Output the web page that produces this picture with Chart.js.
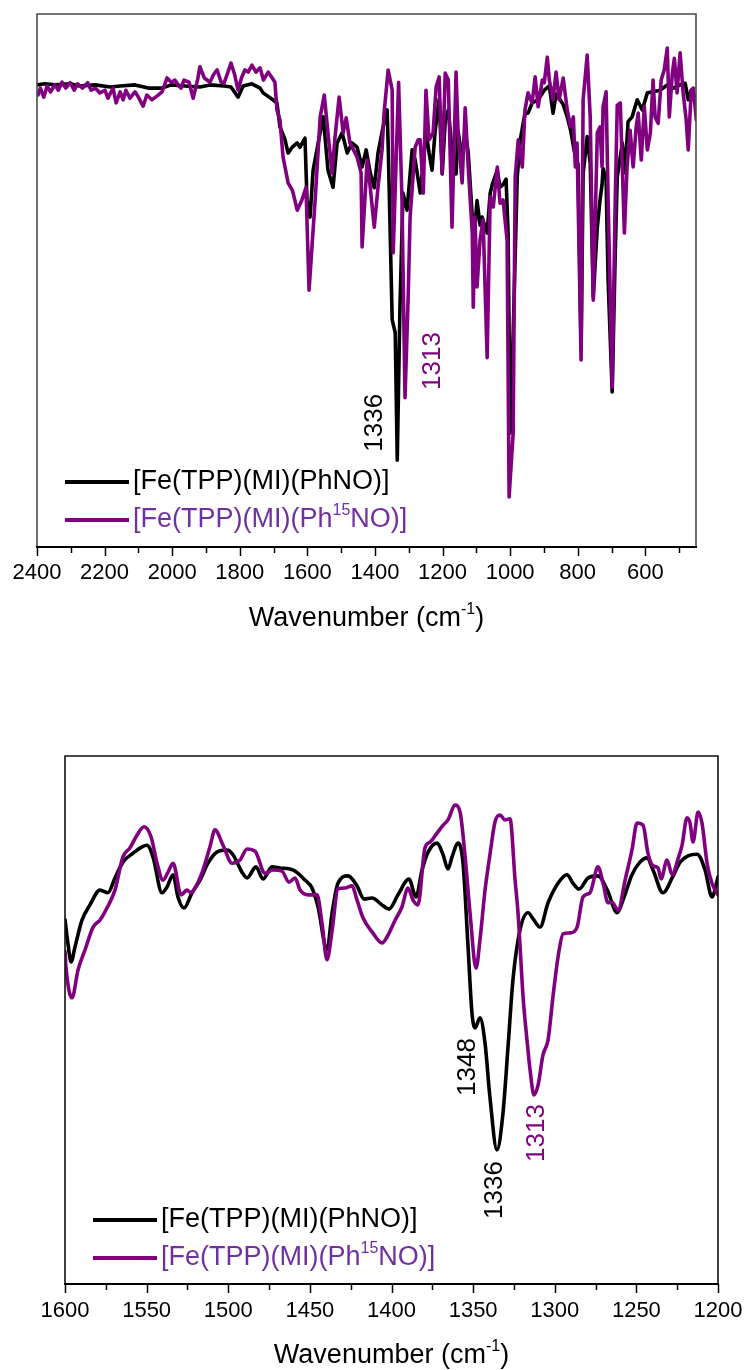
<!DOCTYPE html>
<html>
<head>
<meta charset="utf-8">
<script src="https://cdn.jsdelivr.net/npm/chart.js@4.4.1/dist/chart.umd.min.js"></script>
<style>
  html, body { margin: 0; padding: 0; background: #fff; }
  body { width: 747px; height: 1370px; position: relative; overflow: hidden; }
  .panel { position: absolute; left: 0; }
  #topPanel { top: 0; width: 747px; height: 650px; }
  #bottomPanel { top: 700px; width: 747px; height: 670px; }
</style>
</head>
<body>
<div class="panel" id="topPanel"><canvas id="fullChart" width="747" height="650"></canvas></div>
<div class="panel" id="bottomPanel"><canvas id="zoomChart" width="747" height="670"></canvas></div>
<script>
// IR spectra, 2400-450 cm-1, PhNO complex
var fullWnPhNO = [2400, 2376, 2347, 2302, 2273, 2228, 2184, 2154, 2110, 2071, 2030, 2003, 1962, 1918, 1888, 1846, 1826, 1805, 1790, 1764,
  1740, 1731, 1704, 1690, 1681, 1666, 1657, 1645, 1630, 1622, 1607, 1601, 1592, 1583, 1568, 1553, 1539, 1524, 1512, 1497,
  1482, 1468, 1453, 1438, 1426, 1414, 1402, 1391, 1376, 1364, 1361, 1349, 1340, 1334, 1326, 1317, 1305, 1290, 1281, 1266,
  1257, 1249, 1240, 1231, 1222, 1210, 1201, 1192, 1183, 1172, 1160, 1154, 1142, 1133, 1124, 1112, 1104, 1098, 1089, 1083,
  1068, 1059, 1053, 1038, 1030, 1021, 1012, 1006, 1000, 991, 979, 970, 956, 947, 935, 917, 899, 884, 873, 864,
  852, 843, 831, 821, 807, 799, 790, 784, 772, 763, 754, 742, 734, 728, 725, 716, 713, 710, 698, 689,
  683, 674, 668, 660, 651, 639, 624, 609, 594, 577, 556, 535, 517, 497, 482, 473, 464, 449];
var fullTPhNO = [86.7, 86.9, 86.7, 86.9, 86.5, 86.7, 86.3, 86.5, 86.7, 86.1, 86.1, 86.7, 86.5, 86.3, 86.7, 86.5, 86.3, 84.4, 86.5, 86.9,
  86.1, 85.2, 84.0, 83.3, 78.8, 76.4, 73.9, 75.0, 75.8, 75.0, 76.7, 65.1, 61.9, 70.7, 75.8, 80.7, 70.7, 67.5, 75.8, 77.7,
  73.9, 75.8, 75.0, 71.3, 74.5, 70.2, 67.4, 73.9, 78.8, 82.0, 75.8, 42.6, 40.2, 16.3, 45.0, 66.4, 63.2, 74.5, 72.6, 66.4,
  72.0, 78.0, 74.0, 70.7, 78.0, 84.0, 70.0, 80.0, 82.0, 74.5, 70.0, 78.0, 73.0, 78.0, 74.0, 62.0, 60.0, 65.0, 60.4, 61.9,
  58.9, 66.4, 68.0, 70.7, 67.5, 68.0, 69.0, 58.9, 21.4, 40.0, 69.4, 76.4, 81.4, 81.4, 83.3, 83.9, 85.7, 86.5, 81.4, 85.0,
  83.9, 83.0, 80.7, 78.2, 73.2, 71.8, 37.0, 70.0, 77.0, 72.0, 46.9, 60.0, 65.1, 68.0, 71.0, 69.0, 58.9, 50.0, 29.1, 55.0,
  69.4, 73.2, 75.8, 70.2, 79.8, 80.7, 83.9, 82.0, 85.2, 85.4, 85.7, 86.7, 86.1, 86.7, 87.0, 83.9, 85.7, 83.9];

// same range, Ph15NO complex
var fullWn15NO = [2397, 2390, 2380, 2370, 2360, 2347, 2337, 2326, 2315, 2302, 2290, 2280, 2265, 2250, 2240, 2228, 2214, 2199, 2190, 2175,
  2166, 2154, 2145, 2137, 2125, 2110, 2100, 2086, 2075, 2060, 2045, 2030, 2015, 2003, 1992, 1980, 1974, 1965, 1950, 1938,
  1925, 1918, 1905, 1888, 1878, 1867, 1855, 1846, 1835, 1826, 1815, 1805, 1795, 1785, 1775, 1764, 1752, 1740, 1730, 1716,
  1704, 1696, 1690, 1681, 1672, 1657, 1645, 1642, 1630, 1616, 1604, 1595, 1577, 1562, 1550, 1539, 1527, 1518, 1506, 1494,
  1485, 1474, 1453, 1441, 1438, 1423, 1414, 1402, 1391, 1379, 1373, 1361, 1349, 1346, 1330, 1320, 1311, 1302, 1296, 1281,
  1272, 1266, 1257, 1249, 1240, 1228, 1219, 1210, 1201, 1192, 1183, 1172, 1160, 1154, 1142, 1133, 1124, 1112, 1109, 1104,
  1098, 1089, 1080, 1068, 1059, 1050, 1038, 1030, 1021, 1009, 1003, 991, 985, 976, 964, 956, 947, 935, 926, 917,
  905, 899, 890, 884, 873, 864, 855, 843, 831, 821, 813, 807, 802, 790, 784, 772, 763, 754, 742, 734,
  728, 725, 716, 710, 698, 689, 683, 674, 668, 662, 654, 645, 636, 627, 621, 612, 603, 594, 585, 577,
  571, 562, 553, 544, 535, 529, 520, 514, 506, 497, 488, 479, 473, 464, 458, 449];
var fullT15NO = [84.8, 86.1, 84.4, 86.5, 85.4, 86.7, 85.7, 87.2, 86.1, 87.1, 85.7, 86.9, 86.1, 87.1, 85.7, 86.1, 85.2, 85.7, 84.2, 86.1,
  83.3, 85.4, 83.9, 85.7, 84.2, 85.4, 84.4, 82.7, 84.8, 83.9, 84.6, 85.4, 88.0, 87.2, 87.6, 86.5, 86.1, 87.6, 87.2, 84.2,
  87.6, 90.1, 88.0, 87.2, 88.6, 89.5, 87.2, 87.1, 89.1, 90.8, 88.6, 85.7, 88.0, 89.5, 89.1, 90.4, 89.1, 89.9, 87.6, 89.1,
  88.0, 87.2, 82.0, 80.1, 73.2, 68.3, 67.0, 66.4, 63.2, 65.1, 67.5, 48.2, 65.1, 80.7, 84.8, 77.7, 70.2, 77.0, 84.4, 77.7,
  80.5, 75.8, 73.2, 70.2, 56.3, 72.6, 67.5, 60.0, 67.5, 74.5, 81.4, 89.5, 85.7, 55.2, 87.2, 65.1, 28.0, 46.3, 61.9, 75.0,
  76.4, 76.4, 66.4, 85.7, 76.4, 77.7, 86.3, 88.2, 70.2, 88.9, 87.6, 60.0, 89.1, 77.7, 68.3, 82.4, 71.3, 58.9, 45.0, 61.9,
  48.8, 57.6, 61.4, 35.5, 65.7, 63.8, 71.3, 64.5, 65.1, 57.6, 9.4, 21.4, 69.4, 76.4, 71.3, 82.0, 85.2, 83.3, 88.2, 82.6,
  87.6, 87.1, 91.9, 87.6, 83.9, 89.1, 83.9, 88.0, 82.0, 78.8, 80.7, 71.3, 75.8, 35.1, 83.9, 92.3, 80.7, 46.3, 77.7, 78.8,
  71.3, 82.6, 85.4, 65.1, 30.0, 65.1, 82.9, 83.3, 71.3, 58.9, 71.3, 78.2, 71.3, 78.8, 81.4, 72.6, 82.6, 74.5, 77.7, 87.6,
  80.7, 79.5, 87.6, 89.5, 93.6, 80.7, 88.9, 91.7, 85.2, 92.7, 85.2, 80.1, 74.5, 85.7, 86.1, 80.1];

// expanded 1600-1200 cm-1 region
var zoomWnPhNO = [1600.0, 1598.0, 1596.3, 1593.9, 1589.6, 1584.7, 1578.6, 1573.7, 1569.4, 1564.5, 1558.3, 1552.8, 1549.8, 1546.1, 1540.6, 1537.5,
  1533.8, 1530.8, 1527.1, 1522.2, 1517.3, 1512.4, 1506.9, 1500.8, 1497.1, 1491.6, 1488.5, 1483.0, 1478.7, 1473.2, 1468.3, 1462.2,
  1459.1, 1453.0, 1448.7, 1445.0, 1439.5, 1436.4, 1432.8, 1426.6, 1421.1, 1416.8, 1411.9, 1405.8, 1401.5, 1396.0, 1389.3, 1385.0,
  1381.3, 1377.6, 1372.1, 1368.4, 1365.4, 1362.9, 1359.2, 1356.2, 1353.1, 1350.7, 1348.8, 1345.8, 1342.7, 1339.7, 1335.4, 1331.7,
  1328.6, 1325.6, 1321.3, 1316.4, 1312.7, 1309.0, 1304.1, 1298.0, 1292.5, 1288.8, 1285.1, 1279.6, 1273.5, 1267.8, 1261.8, 1258.2,
  1252.7, 1247.8, 1243.5, 1239.8, 1233.7, 1228.1, 1223.2, 1218.4, 1212.8, 1207.9, 1203.7, 1200.0];
var zoomTPhNO = [69.0, 64.0, 61.0, 63.8, 68.9, 71.8, 74.6, 74.1, 76.9, 79.9, 81.6, 82.8, 83.1, 80.9, 74.1, 75.2,
  77.5, 73.3, 71.2, 74.1, 76.5, 79.7, 81.8, 82.2, 81.3, 78.0, 76.9, 79.0, 76.7, 79.0, 78.8, 78.6,
  78.2, 76.5, 75.0, 71.4, 63.3, 70.3, 75.9, 77.3, 75.4, 72.9, 73.1, 71.8, 71.0, 73.7, 76.7, 73.3,
  78.4, 81.8, 83.5, 81.3, 78.6, 80.9, 83.5, 79.7, 63.8, 51.3, 48.5, 50.4, 45.6, 35.4, 25.4, 32.4,
  45.0, 57.6, 67.0, 70.3, 68.9, 67.6, 72.2, 75.9, 77.5, 75.9, 74.8, 76.9, 77.3, 74.6, 70.3, 72.7,
  77.5, 79.9, 80.7, 78.4, 74.1, 76.9, 79.9, 81.1, 81.4, 78.4, 73.3, 77.1];
var zoomWn15NO = [1600.0, 1599.4, 1595.7, 1592.0, 1587.7, 1582.8, 1578.6, 1574.3, 1569.4, 1564.5, 1560.2, 1555.9, 1551.6, 1547.3, 1543.6, 1540.0,
  1536.9, 1533.8, 1528.9, 1525.3, 1522.8, 1519.1, 1515.5, 1511.2, 1508.1, 1503.2, 1497.7, 1492.8, 1488.5, 1483.6, 1477.5, 1472.6,
  1467.1, 1462.8, 1459.1, 1456.0, 1451.1, 1445.6, 1442.6, 1439.5, 1436.4, 1432.8, 1428.5, 1424.2, 1421.1, 1417.4, 1411.9, 1405.8,
  1402.1, 1397.8, 1393.6, 1389.9, 1386.8, 1383.8, 1379.5, 1376.4, 1372.1, 1368.4, 1365.4, 1361.1, 1358.0, 1354.9, 1351.9, 1348.2,
  1345.8, 1342.7, 1339.7, 1336.6, 1333.5, 1330.5, 1327.4, 1324.3, 1322.5, 1319.4, 1317.0, 1315.1, 1312.7, 1310.2, 1307.2, 1304.1,
  1301.1, 1298.0, 1294.9, 1290.6, 1286.3, 1282.7, 1278.4, 1273.5, 1270.4, 1267.4, 1264.9, 1261.2, 1256.9, 1252.7, 1249.6, 1245.9,
  1242.9, 1239.8, 1236.7, 1234.9, 1231.2, 1228.1, 1224.5, 1222.0, 1219.0, 1217.1, 1215.3, 1212.2, 1209.8, 1206.7, 1203.7, 1200.0];
var zoomT15NO = [63.0, 60.0, 54.2, 59.5, 63.3, 67.6, 68.9, 71.2, 74.6, 80.9, 82.6, 85.0, 86.6, 84.7, 79.7, 76.5,
  78.0, 79.7, 73.7, 74.6, 74.1, 75.7, 78.4, 82.8, 86.0, 83.1, 79.7, 80.3, 82.4, 82.0, 77.8, 78.4,
  78.2, 76.1, 76.9, 74.6, 73.7, 73.7, 68.4, 61.4, 66.9, 74.8, 75.0, 75.4, 72.7, 69.3, 66.7, 64.6,
  66.1, 68.9, 71.4, 75.0, 72.7, 71.8, 82.6, 83.7, 85.4, 86.9, 87.9, 90.7, 89.4, 80.9, 70.3, 59.8,
  65.2, 74.6, 81.3, 87.5, 88.8, 87.9, 88.1, 76.5, 70.3, 54.4, 46.2, 40.5, 35.8, 37.7, 43.4, 46.2,
  54.4, 61.9, 66.3, 66.5, 67.6, 73.3, 74.1, 79.0, 75.9, 72.2, 72.3, 70.8, 76.5, 82.2, 87.3, 86.9,
  81.6, 79.2, 78.8, 76.7, 80.3, 77.5, 80.5, 83.1, 88.3, 87.3, 83.7, 89.4, 87.3, 79.7, 75.9, 73.7];

// axis ticks
var fullMajorTicks = [2400, 2200, 2000, 1800, 1600, 1400, 1200, 1000, 800, 600];
var fullMinorTicks = [2300, 2100, 1900, 1700, 1500, 1300, 1100, 900, 700, 500];
var zoomMajorTicks = [1600, 1550, 1500, 1450, 1400, 1350, 1300, 1250, 1200];
var zoomMinorTicks = [1575, 1525, 1475, 1425, 1375, 1325, 1275, 1225];

// series names, peak labels
var nameRuns = [
  [{ t: "[Fe(TPP)(MI)(PhNO)]" }],
  [{ t: "[Fe(TPP)(MI)(Ph" }, { t: "15", sup: true }, { t: "NO)]" }]
];
var fullPeaks = [
  { text: "1336", wn: 1399, t: 23.3, color: "#000000" },
  { text: "1313", wn: 1229, t: 34.9, color: "#800080" }
];
var zoomPeaks = [
  { text: "1348", wn: 1353, t: 41.1, color: "#000000" },
  { text: "1336", wn: 1336.6, t: 17.8, color: "#000000" },
  { text: "1313", wn: 1311.1, t: 28.6, color: "#800080" }
];

var FONT = '"Liberation Sans", Arial, sans-serif';
var BLACK = "#000000";
var PURPLE = "#800080";
var PURPLE_TEXT = "#7030A0";

function pts(xs, ys) {
  return xs.map(function (x, i) { return { x: x, y: ys[i] }; });
}

function drawRuns(ctx, runs, x, y, size, color) {
  ctx.fillStyle = color;
  ctx.textBaseline = "middle";
  ctx.textAlign = "left";
  runs.forEach(function (r) {
    if (r.sup) {
      ctx.font = Math.round(size * 0.58) + "px " + FONT;
      ctx.fillText(r.t, x, y - size * 0.33);
    } else {
      ctx.font = size + "px " + FONT;
      ctx.fillText(r.t, x, y);
    }
    x += ctx.measureText(r.t).width;
  });
}

function runsWidth(ctx, runs, size) {
  var w = 0;
  runs.forEach(function (r) {
    ctx.font = (r.sup ? Math.round(size * 0.58) : size) + "px " + FONT;
    w += ctx.measureText(r.t).width;
  });
  return w;
}

// frame, tick marks, axis title, legend and peak labels
var decorPlugin = {
  id: "decor",
  afterDraw: function (chart, args, o) {
    var ctx = chart.ctx, a = chart.chartArea, xs = chart.scales.x, ys = chart.scales.y;
    ctx.save();

    // tick marks under the x axis
    ctx.strokeStyle = "#000";
    ctx.lineWidth = 1.5;
    function mark(v, len) {
      var px = Math.round(xs.getPixelForValue(v)) + 0.5;
      ctx.beginPath();
      ctx.moveTo(px, a.bottom);
      ctx.lineTo(px, a.bottom + len);
      ctx.stroke();
    }
    o.major.forEach(function (v) { mark(v, 9); });
    o.minor.forEach(function (v) { mark(v, 6); });

    // box
    ctx.lineWidth = 1.6;
    ctx.strokeStyle = o.frameColor;
    ctx.beginPath();
    ctx.moveTo(a.left, a.bottom);
    ctx.lineTo(a.left, a.top);
    ctx.lineTo(a.right, a.top);
    ctx.lineTo(a.right, a.bottom);
    ctx.stroke();
    ctx.strokeStyle = "#000";
    ctx.lineWidth = 2;
    ctx.beginPath();
    ctx.moveTo(a.left - 1, a.bottom);
    ctx.lineTo(a.right + 1, a.bottom);
    ctx.stroke();

    // axis title with superscript
    var title = [{ t: "Wavenumber (cm" }, { t: "-1", sup: true }, { t: ")" }];
    var tw = runsWidth(ctx, title, 27);
    drawRuns(ctx, title, (a.left + a.right) / 2 - tw / 2, a.bottom + 72, 27, "#000");

    // legend
    chart.data.datasets.forEach(function (ds, i) {
      var ly = a.top + o.legendTop[i];
      ctx.strokeStyle = ds.borderColor;
      ctx.lineWidth = 4;
      ctx.beginPath();
      ctx.moveTo(a.left + 28, ly);
      ctx.lineTo(a.left + 92, ly);
      ctx.stroke();
      drawRuns(ctx, nameRuns[ds.nameIndex], a.left + 96, ly, 27, ds.textColor);
    });

    // peak positions
    o.peaks.forEach(function (p) {
      ctx.save();
      ctx.translate(xs.getPixelForValue(p.wn), ys.getPixelForValue(p.t));
      ctx.rotate(-Math.PI / 2);
      ctx.font = "26px " + FONT;
      ctx.fillStyle = p.color;
      ctx.textAlign = "center";
      ctx.textBaseline = "middle";
      ctx.fillText(p.text, 0, 0);
      ctx.restore();
    });

    ctx.restore();
  }
};

function makeChart(canvasId, cfg) {
  return new Chart(document.getElementById(canvasId), {
    type: "line",
    data: {
      datasets: [
        {
          label: "[Fe(TPP)(MI)(PhNO)]",
          nameIndex: 0,
          textColor: BLACK,
          data: pts(cfg.blackX, cfg.blackY),
          borderColor: BLACK,
          borderWidth: 3.6,
          pointRadius: 0,
          tension: 0,
          cubicInterpolationMode: cfg.smooth ? "monotone" : "default",
          borderJoinStyle: "round",
          borderCapStyle: "round",
          order: 1
        },
        {
          label: "[Fe(TPP)(MI)(Ph15NO)]",
          nameIndex: 1,
          textColor: PURPLE_TEXT,
          data: pts(cfg.purpleX, cfg.purpleY),
          borderColor: PURPLE,
          borderWidth: 3.6,
          pointRadius: 0,
          tension: 0,
          cubicInterpolationMode: cfg.smooth ? "monotone" : "default",
          borderJoinStyle: "round",
          borderCapStyle: "round",
          order: 0
        }
      ]
    },
    options: {
      responsive: false,
      animation: false,
      devicePixelRatio: 1,
      layout: { padding: cfg.padding },
      scales: {
        x: {
          type: "linear",
          reverse: true,
          min: cfg.min,
          max: cfg.max,
          grid: { display: false, drawTicks: false },
          border: { display: false },
          afterBuildTicks: function (scale) {
            scale.ticks = cfg.major.map(function (v) { return { value: v }; });
          },
          afterFit: function (scale) {
            // edge labels may hang past the box; layout padding decides the plot width
            scale.height = cfg.axisHeight;
            scale.paddingLeft = 0;
            scale.paddingRight = 0;
          },
          ticks: {
            autoSkip: false,
            maxRotation: 0,
            padding: cfg.tickPad,
            color: "#000",
            font: { family: FONT, size: 22 },
            callback: function (v) { return String(v); }
          }
        },
        y: { display: false, min: 0, max: 100 }
      },
      plugins: {
        legend: { display: false },
        tooltip: { enabled: false },
        decor: {
          major: cfg.major,
          minor: cfg.minor,
          peaks: cfg.peaks,
          legendTop: cfg.legendTop,
          frameColor: cfg.frameColor
        }
      }
    },
    plugins: [decorPlugin]
  });
}

makeChart("fullChart", {
  blackX: fullWnPhNO, blackY: fullTPhNO,
  purpleX: fullWn15NO, purpleY: fullT15NO,
  min: 450, max: 2400,
  major: fullMajorTicks, minor: fullMinorTicks,
  peaks: fullPeaks,
  padding: { left: 37, right: 51, top: 14, bottom: 0 },
  axisHeight: 103,
  tickPad: 13,
  legendTop: [468, 506],
  frameColor: "#4a4a4a",
  smooth: false
});

makeChart("zoomChart", {
  blackX: zoomWnPhNO, blackY: zoomTPhNO,
  purpleX: zoomWn15NO, purpleY: zoomT15NO,
  min: 1200, max: 1600,
  major: zoomMajorTicks, minor: zoomMinorTicks,
  peaks: zoomPeaks,
  padding: { left: 65, right: 29, top: 56, bottom: 0 },
  axisHeight: 86,
  tickPad: 14,
  legendTop: [464, 502],
  frameColor: "#111111",
  smooth: true
});
</script>
</body>
</html>
